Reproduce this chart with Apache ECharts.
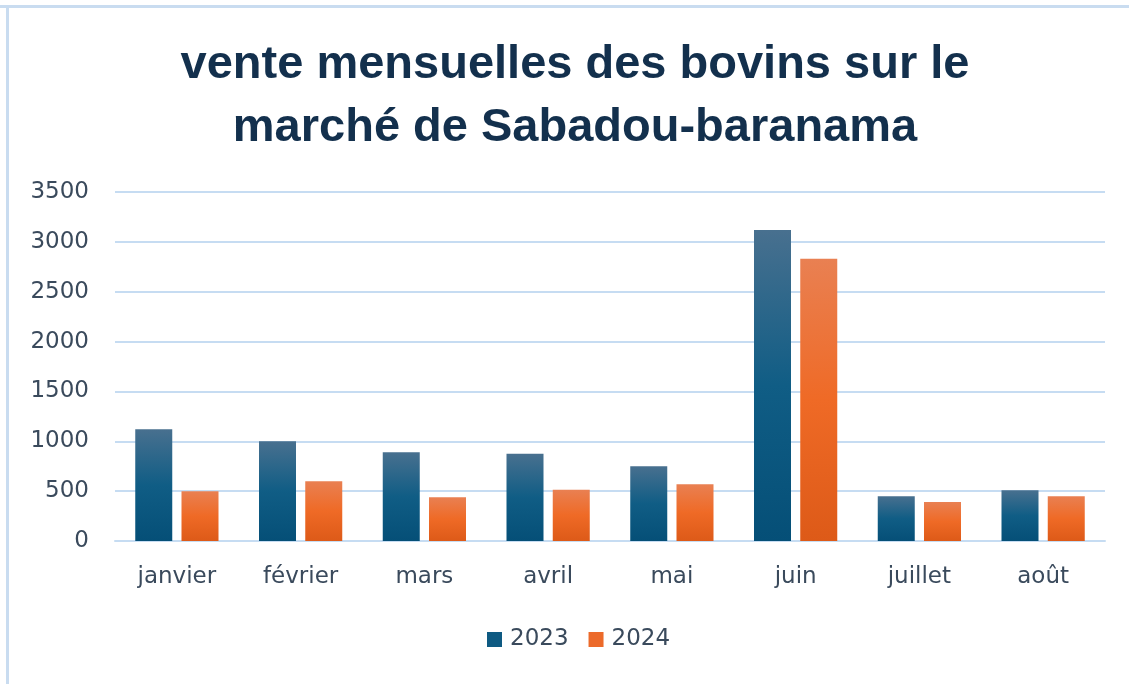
<!DOCTYPE html>
<html>
<head>
<meta charset="utf-8">
<script src="https://cdn.jsdelivr.net/npm/echarts@6/dist/echarts.min.js"></script>
<style>
html,body{margin:0;padding:0;background:#fff;}
#c{width:1129px;height:684px;}
</style>
</head>
<body>
<div id="c"></div>
<script>
const titleText = 'vente mensuelles des bovins sur le\nmarché de Sabadou-baranama';
const categories = ['janvier','février','mars','avril','mai','juin','juillet','août'];
const seriesNames = ['2023','2024'];
const values2023 = [1120, 1000, 890, 875, 750, 3120, 450, 510];
const values2024 = [500, 600, 440, 515, 570, 2830, 390, 450];
const yTicks = [0, 500, 1000, 1500, 2000, 2500, 3000, 3500];

const chart = echarts.init(document.getElementById('c'));
const grad = (top, mid, bot) => new echarts.graphic.LinearGradient(0,0,0,1,[
  {offset:0,color:top},{offset:0.5,color:mid},{offset:1,color:bot}]);
const labelFont = {fontFamily:'DejaVu Sans',fontSize:23,color:'#3a4a5c'};
chart.setOption({
  backgroundColor:'#ffffff',
  animation:false,
  graphic:[
    {type:'rect',shape:{x:0,y:5,width:1129,height:3},style:{fill:'#c9dcf0'}},
    {type:'rect',shape:{x:6,y:5,width:3,height:679},style:{fill:'#c9dcf0'}},
    {type:'text',style:{text:titleText,x:575,y:34,textAlign:'center',textVerticalAlign:'top',
      fontFamily:'Liberation Sans',fontWeight:'bold',fontSize:47,lineHeight:63,fill:'#13304d'}}
  ],
  legend:{
    data:[
      {name:seriesNames[0],itemStyle:{color:'#0e5a82'}},
      {name:seriesNames[1],itemStyle:{color:'#ec6a2a'}}
    ],
    bottom:28,
    left:482,
    itemWidth:15,itemHeight:15,itemGap:20,
    icon:'rect',
    textStyle:Object.assign({padding:[0,0,0,3]},labelFont)
  },
  grid:{left:115,right:24,top:192,bottom:143,containLabel:false},
  xAxis:{
    type:'category',
    data:categories,
    axisLine:{lineStyle:{color:'#c6dcf2',width:2}},
    axisTick:{show:false},
    axisLabel:Object.assign({margin:25},labelFont)
  },
  yAxis:{
    type:'value',
    min:yTicks[0],max:yTicks[yTicks.length-1],interval:500,
    axisLine:{show:false},
    axisTick:{show:false},
    splitLine:{lineStyle:{color:'#c6dcf2',width:2}},
    axisLabel:Object.assign({margin:26,formatter:v=>String(v)},labelFont)
  },
  series:[
    {name:seriesNames[0],type:'bar',data:values2023,barWidth:37,barGap:'25%',
     itemStyle:{color:grad('#48708f','#105d85','#054f77')}},
    {name:seriesNames[1],type:'bar',data:values2024,barWidth:37,
     itemStyle:{color:grad('#e98052','#ef6a26','#dd5a18')}}
  ]
});
</script>
</body>
</html>
